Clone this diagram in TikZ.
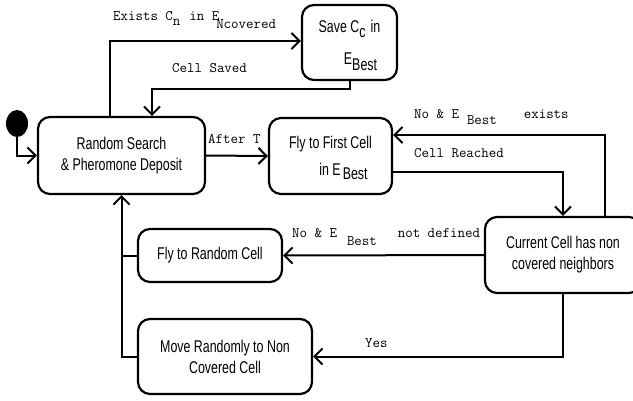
\documentclass[tikz,border=0pt]{standalone}
\usepackage{fontspec}
\usetikzlibrary{arrows.meta,shapes.geometric}
\newfontfamily\boxfont[FakeStretch=0.73]{Liberation Sans}

\begin{document}
\begin{tikzpicture}[x=1pt,y=-1pt,
  state/.style={draw, line width=2.2pt, rounded corners=12pt, align=center,
    inner sep=0pt, font=\boxfont\fontsize{17}{21}\selectfont},
  flow/.style={line width=2pt, -{Straight Barb[length=8pt,width=16pt,line width=2pt]}},
  link/.style={line width=2pt},
  lab/.style={anchor=base west, inner sep=0pt, font=\ttfamily\fontsize{14.5}{16}\selectfont}]
\useasboundingbox (0,0) rectangle (633,400);
\clip (0,0) rectangle (633,400);

% states
\node[fill, ellipse, minimum width=22pt, minimum height=27pt, inner sep=0pt] (init) at (17,123.5) {};
\node[state, minimum width=167pt, minimum height=77pt] (rs) at (121.5,155.5)
  {Random Search\\\& Pheromone Deposit};
\node[state, minimum width=95pt, minimum height=75pt] (sv) at (349.5,42.5)
  {Save C\raisebox{-5pt}[0pt][0pt]{c}\hspace{5pt}in\\[11pt]\hspace*{22pt}E\raisebox{-6pt}[0pt][0pt]{Best}};
\node[state, minimum width=123pt, minimum height=76pt] (ff) at (330.5,156)
  {Fly to First Cell\\[6pt]\hspace*{26pt}in E\hspace{2pt}\raisebox{-4pt}[0pt][0pt]{Best}};
\node[state, minimum width=156pt, minimum height=76pt] (cc) at (563,255)
  {Current Cell has non\\covered neighbors};
\node[state, minimum width=144pt, minimum height=53pt] (fr) at (210,255.5)
  {Fly to Random Cell};
\node[state, minimum width=174pt, minimum height=75pt] (mr) at (225,356.5)
  {Move Randomly to Non\\Covered Cell};

% bend points of the connectors
\coordinate (xa) at (110,0);
\coordinate (xb) at (152,0);
\coordinate (yc) at (0,172);
\coordinate (xd) at (605,0);
\coordinate (ye) at (0,135);
\coordinate (yf) at (0,41);

% transitions
\draw[flow] (init.south) |- (rs.west);
\draw[flow] (rs.north -| xa) |- (sv.west |- yf);
\draw[flow] (sv.south) -- ++(0,8) -| (rs.north -| xb);
\draw[flow] (rs.east) -- (ff.west);
\draw[flow] (ff.east |- yc) -| (cc.north);
\draw[flow] (cc.north -| xd) |- (ff.east |- ye);
\draw[flow] (cc.west) -- (fr.east);
\draw[flow] (cc.south) |- (mr.east);
\draw[link] (fr.west) -- (fr.west -| rs.south);
\draw[flow] (mr.west) -| (rs.south);

% transition labels
\node[lab] (l1) at (113,20) {Exists C\raisebox{-5pt}{n}\hspace{9pt}in E\hspace{-3pt}\raisebox{-8pt}{Ncovered}};
\node[lab] (l2) at (172,72) {Cell Saved};
\node[lab] (l3) at (208,143) {After T};
\node[lab] (l4) at (414,118) {No \& E\hspace{8pt}\raisebox{-6pt}{Best}\hspace{27pt}exists};
\node[lab] (l5) at (414,157) {Cell Reached};
\node[lab] (l6) at (292,237) {No \& E\hspace{10pt}\raisebox{-8pt}{Best}\hspace{21pt}not defined};
\node[lab] (l7) at (365,347) {Yes};
\end{tikzpicture}
\end{document}
